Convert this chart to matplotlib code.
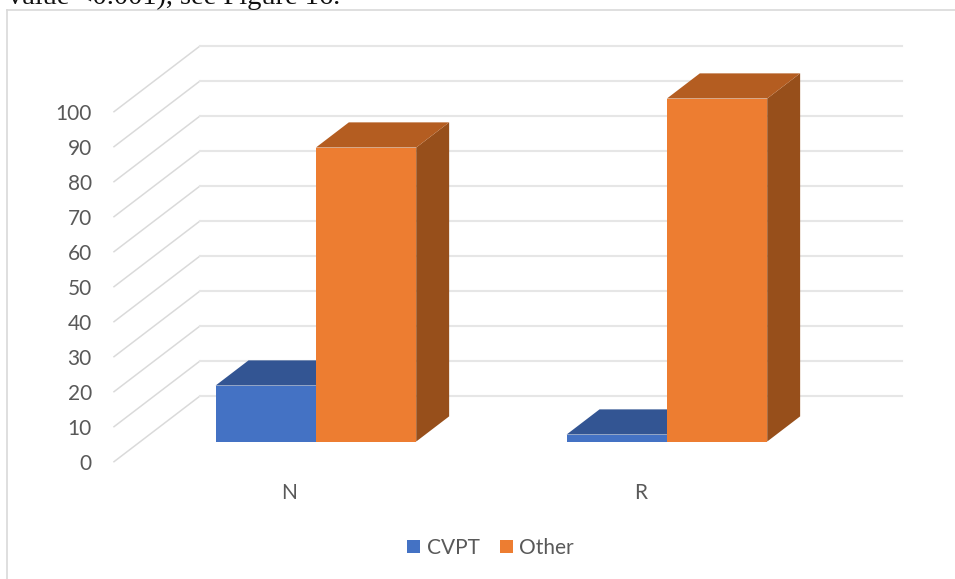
import matplotlib
matplotlib.use("Agg")
import matplotlib.pyplot as plt
from matplotlib.lines import Line2D
from matplotlib.patches import Patch, Polygon

categories = ["N", "R"]
series_names = ["CVPT", "Other"]
cvpt_values = [16, 2]
other_values = [84, 98]
value_ticks = list(range(0, 101, 10))

W, H = 955, 579
FRONT_COLORS = ["#4472C4", "#ED7D31"]
TOP_COLORS = ["#335593", "#B45D21"]
SIDE_COLORS = ["#2A4A80", "#974F1B"]
GRID_WALL = "#E6E6E6"
GRID_SIDE = "#DADADA"
TEXT = "#595959"

# Oblique projection: one unit of depth moves a point right and up, in data units.
CATEGORY_PX = 351.0
DEPTH_X = 86 / CATEGORY_PX
DEPTH_Y = 65.7 / 3.5
BAR_WIDTH = 100.3 / CATEGORY_PX
BAR_NEAR = 0.307   # depth of the bars' front faces
BAR_FAR = 0.69     # depth of the bars' back faces


def project(x, v, depth):
    return x + depth * DEPTH_X, v + depth * DEPTH_Y


fig = plt.figure(figsize=(W / 100, H / 100), dpi=100, facecolor="white")
ax = fig.add_axes([114 / W, 1 - 461.7 / H, 2 * CATEGORY_PX / W, 350 / H])
ax.set_xlim(0, len(categories))
ax.set_ylim(0, 100)
ax.patch.set_visible(False)
for spine in ax.spines.values():
    spine.set_visible(False)

font = "Lato"
ax.set_yticks(value_ticks)
ax.set_yticklabels([str(v) for v in value_ticks], fontsize=15, color=TEXT, family=font)
centers = [i + 0.5 for i in range(len(categories))]
ax.set_xticks(centers)
ax.set_xticklabels(categories, fontsize=15, color=TEXT, family=font)
ax.tick_params(axis="y", length=0, pad=16)
ax.tick_params(axis="x", length=0, pad=15)

# Floor and wall gridlines
for v in value_ticks:
    x0, y0 = project(0, v, 0)
    x1, y1 = project(0, v, 1)
    x2, y2 = project(len(categories), v, 1)
    ax.plot([x0, x1], [y0, y1], color=GRID_SIDE, lw=1.1, clip_on=False, zorder=1)
    ax.plot([x1, x2], [y1, y2], color=GRID_WALL, lw=1.5, clip_on=False, zorder=1)


def draw_bar(x_left, value, k, z):
    """Draw one oblique 3D column: side, top, then front face."""
    x_right = x_left + BAR_WIDTH
    side = [project(x_right, 0, BAR_NEAR), project(x_right, 0, BAR_FAR),
            project(x_right, value, BAR_FAR), project(x_right, value, BAR_NEAR)]
    top = [project(x_left, value, BAR_NEAR), project(x_left, value, BAR_FAR),
           project(x_right, value, BAR_FAR), project(x_right, value, BAR_NEAR)]
    ax.add_patch(Polygon(side, closed=True, fc=SIDE_COLORS[k], ec="none", clip_on=False, zorder=z))
    ax.add_patch(Polygon(top, closed=True, fc=TOP_COLORS[k], ec="none", clip_on=False, zorder=z))
    x_front, base = project(x_left, 0, BAR_NEAR)
    ax.bar(x_front, value, BAR_WIDTH, bottom=base, align="edge", color=FRONT_COLORS[k],
           clip_on=False, zorder=z + 0.5)


for i, center in enumerate(centers):
    draw_bar(center - BAR_WIDTH, cvpt_values[i], 0, 2)
    draw_bar(center, other_values[i], 1, 3)

ax.set_xlim(0, len(categories))
ax.set_ylim(0, 100)

handles = [Patch(fc=c, ec="none") for c in FRONT_COLORS]
fig.legend(handles, series_names, loc="center", bbox_to_anchor=(490.7 / W, 1 - 548 / H),
           ncol=2, frameon=False, fontsize=15, labelcolor=TEXT,
           handlelength=0.62, handleheight=0.62, handletextpad=0.3,
           columnspacing=1.0, borderpad=0, borderaxespad=0)
for t in fig.legends[0].get_texts():
    t.set_family(font)

# Chart frame, open at the right and bottom edges of the page
frame_x = 7.3 / W
frame_y = 1 - 9.7 / H
fig.add_artist(Line2D([frame_x, frame_x], [0, frame_y], color="#D9D9D9", lw=1.2))
fig.add_artist(Line2D([frame_x, 1], [frame_y, frame_y], color="#D9D9D9", lw=1.2))

# Last line of the surrounding paragraph, cut by the page's top edge
fig.text(8 / W, 1 - 3.5 / H, "value <0.001), see Figure 16.", family="Liberation Serif",
         fontsize=20.5, color="#111111", ha="left", va="baseline")

fig.savefig("out.png", dpi=100)
